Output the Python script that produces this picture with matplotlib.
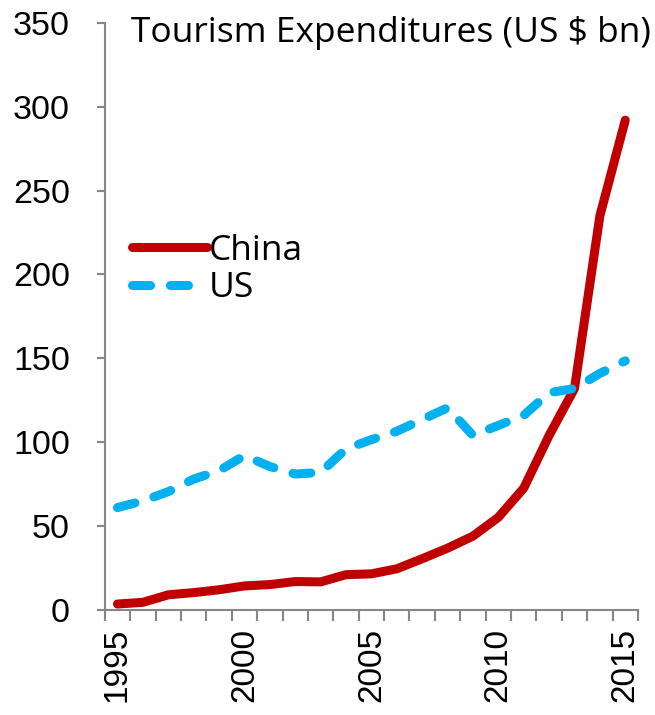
import numpy as np
import matplotlib.pyplot as plt

# Tourism expenditures, US $ bn
years = list(range(1995, 2016))
china = [3.5, 4.5, 9.0, 10.3, 12.0, 14.3, 15.1, 16.9, 16.7, 21.0, 21.5, 24.5,
         30.5, 36.8, 44.0, 55.2, 72.6, 104.0, 132.0, 235.0, 292.0]
us = [61.0, 65.0, 70.5, 78.0, 83.0, 92.0, 85.5, 81.0, 82.0, 96.0, 101.5, 106.5,
      113.5, 120.5, 104.0, 110.0, 116.0, 129.5, 132.0, 141.0, 148.5]
yticks = [0, 50, 100, 150, 200, 250, 300, 350]
xlabels = [1995, 2000, 2005, 2010, 2015]

title_font = 'Open Sans'
tick_font = 'Liberation Sans'
grey = '#868686'

fig = plt.figure(figsize=(6.55, 7.15), dpi=100)
ax = fig.add_axes([0.160, 0.147, 0.814, 0.821])

ax.plot(years, china, color='#C00000', lw=6.5, solid_capstyle='round',
        solid_joinstyle='round', label='China')
ax.plot(years, us, color='#00B0F0', lw=6.5, dashes=(2.0, 2.2),
        dash_capstyle='round', dash_joinstyle='round', label='US')

ax.set_ylim(0, 350)
ax.set_yticks(yticks)
ax.set_xlim(years[0] - 0.5, years[-1] + 0.5)
ax.set_xticks(xlabels)
ax.set_xticks(np.arange(years[0] - 0.5, years[-1] + 1.0, 1.0), minor=True)

for s in ['top', 'right']:
    ax.spines[s].set_visible(False)
for s in ['left', 'bottom']:
    ax.spines[s].set_color(grey)
    ax.spines[s].set_linewidth(1.5)

ax.tick_params(axis='y', length=6, width=1.5, color=grey, pad=19,
               labelsize=24.5)
ax.tick_params(axis='x', which='major', length=0, pad=13, labelsize=24,
               labelrotation=90)
ax.tick_params(axis='x', which='minor', length=8, width=1.5, color=grey)
for lab in ax.get_xticklabels() + ax.get_yticklabels():
    lab.set_fontfamily(tick_font)

fig.text(0.200, 0.941, 'Tourism Expenditures (US $ bn)', fontsize=25.5,
         family=title_font, va='baseline', ha='left')

ax.legend(loc='upper left', bbox_to_anchor=(0.025, 0.665), frameon=False,
          prop={'family': title_font, 'size': 25.5}, handlelength=2.1,
          handletextpad=0.05, labelspacing=0.1, borderaxespad=0)

fig.savefig('out.png', dpi=100)
